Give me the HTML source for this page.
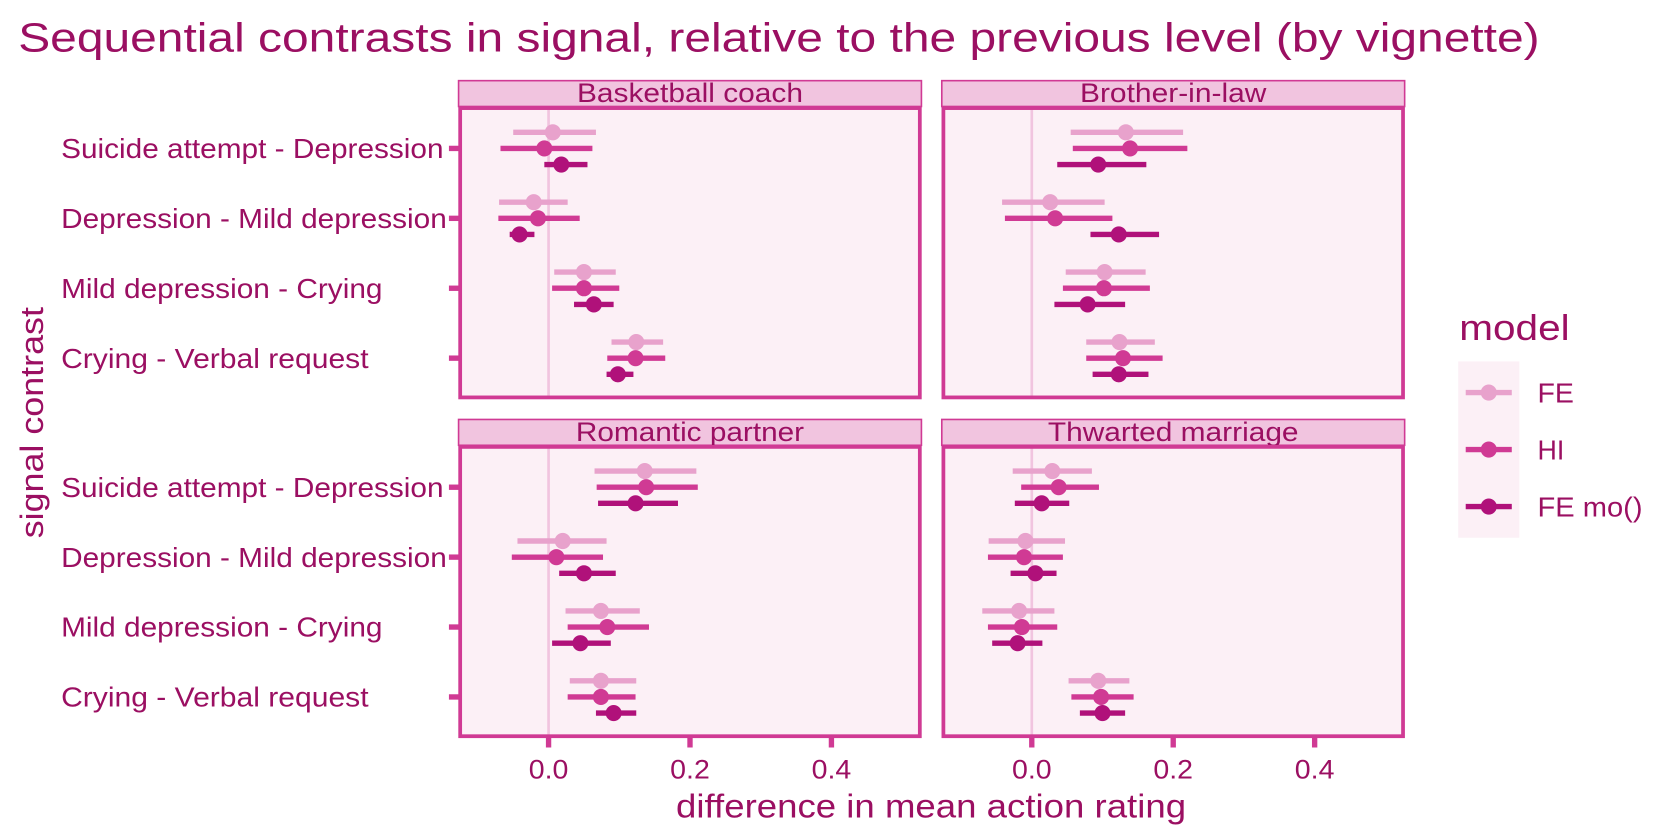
<!DOCTYPE html>
<html><head><meta charset="utf-8"><style>
html,body{margin:0;padding:0;background:#fff;}
svg{display:block;font-family:"Liberation Sans",sans-serif;}
</style></head><body>
<svg id="chart" width="1680" height="840" viewBox="0 0 1568 781" preserveAspectRatio="none" xmlns="http://www.w3.org/2000/svg">
<text x="17" y="48" font-size="38" fill="#9b0f62" textLength="1420" lengthAdjust="spacingAndGlyphs">Sequential contrasts in signal, relative to the previous level (by vignette)</text>
<text transform="translate(40,393) rotate(-90)" text-anchor="middle" font-size="30" fill="#9b0f62" textLength="215" lengthAdjust="spacingAndGlyphs">signal contrast</text>
<text x="869" y="760" text-anchor="middle" font-size="31" fill="#9b0f62" textLength="476" lengthAdjust="spacingAndGlyphs">difference in mean action rating</text>
<g id="panels"></g>
<g id="legend">
<rect x="1361" y="336" width="57" height="164" fill="#fcf0f6"/>
<text x="1362" y="316" font-size="34" fill="#9b0f62" textLength="103" lengthAdjust="spacingAndGlyphs">model</text>
</g>
</svg>
<script>
const vignettes = ["Basketball coach","Brother-in-law","Romantic partner","Thwarted marriage"];
const contrasts = ["Suicide attempt - Depression","Depression - Mild depression","Mild depression - Crying","Crying - Verbal request"];
const models = ["FE","HI","FE mo()"];
const xTicks = [0.0,0.2,0.4];
const xTickLabels = ["0.0","0.2","0.4"];
// estimates[vignette][contrast][model]
const est = [
 [[0.006,-0.006,0.018],[-0.021,-0.015,-0.041],[0.050,0.050,0.064],[0.124,0.123,0.098]],
 [[0.133,0.139,0.094],[0.026,0.033,0.123],[0.103,0.102,0.079],[0.124,0.129,0.123]],
 [[0.136,0.138,0.123],[0.020,0.011,0.050],[0.074,0.083,0.045],[0.074,0.074,0.092]],
 [[0.029,0.038,0.014],[-0.009,-0.011,0.005],[-0.018,-0.014,-0.020],[0.094,0.098,0.100]]
];
const lower = [
 [[-0.050,-0.068,-0.006],[-0.070,-0.071,-0.055],[0.008,0.005,0.036],[0.089,0.083,0.082]],
 [[0.055,0.058,0.036],[-0.042,-0.038,0.083],[0.048,0.044,0.032],[0.077,0.077,0.086]],
 [[0.065,0.068,0.070],[-0.044,-0.052,0.015],[0.024,0.027,0.005],[0.030,0.027,0.067]],
 [[-0.027,-0.015,-0.024],[-0.061,-0.062,-0.030],[-0.070,-0.062,-0.056],[0.052,0.056,0.068]]
];
const upper = [
 [[0.067,0.062,0.055],[0.027,0.044,-0.020],[0.095,0.100,0.092],[0.162,0.165,0.120]],
 [[0.214,0.220,0.162],[0.103,0.114,0.180],[0.161,0.167,0.132],[0.174,0.185,0.165]],
 [[0.209,0.211,0.183],[0.082,0.077,0.095],[0.129,0.142,0.088],[0.124,0.123,0.124]],
 [[0.085,0.095,0.053],[0.047,0.044,0.035],[0.032,0.036,0.015],[0.138,0.144,0.132]]
];
const labelWidths = [357,360,300,287];
const stripWidths = [211,174,213,234];
const colors = ["#e8a2cc","#d03a94","#b0117a"];
const NS="http://www.w3.org/2000/svg";
function mk(tag,attrs,parent){const e=document.createElementNS(NS,tag);for(const k in attrs)e.setAttribute(k,attrs[k]);parent.appendChild(e);return e;}
const panelsG=document.getElementById('panels');
const PX=[428,879], PY=[99,414], PW=432, PH=272;
function xScale(p,v){return PX[p%2]+84+v*660;}
function yScale(p,ci,mi){return PY[Math.floor(p/2)]+39+ci*65+(mi-1)*15;}
vignettes.forEach((v,p)=>{
 const x0=PX[p%2], y0=PY[Math.floor(p/2)];
 const g=mk('g',{},panelsG);
 
 
 const strip=mk('rect',{x:x0,y:y0-24,width:PW,height:24,fill:'#f1c4df',stroke:'#d03a94','stroke-width':1.5},g);
 
 
 const st=mk('text',{x:x0+PW/2,y:y0-4,'text-anchor':'middle','font-size':25,fill:'#9b0f62',textLength:stripWidths[p],lengthAdjust:'spacingAndGlyphs'},g);
 st.textContent=v;
 
 
 const bg=mk('rect',{x:x0,y:y0,width:PW,height:PH,fill:'#fcf0f6'},g);
 
 
 const zl=mk('line',{x1:xScale(p,0),x2:xScale(p,0),y1:y0,y2:y0+PH,stroke:'#f1c4df','stroke-width':2.5},g);
 
 
 contrasts.forEach((c,ci)=>{
  models.forEach((m,mi)=>{
   const y=yScale(p,ci,mi);
   const l=mk('line',{x1:xScale(p,lower[p][ci][mi]),x2:xScale(p,upper[p][ci][mi]),y1:y,y2:y,stroke:colors[mi],'stroke-width':5},g);
   
   
   const pt=mk('circle',{cx:xScale(p,est[p][ci][mi]),cy:y,r:7.5,fill:colors[mi]},g);
   
   
  });
  if(p%2===0){
   const ty=yScale(p,ci,1);
   const tk=mk('line',{x1:419,x2:428,y1:ty,y2:ty,stroke:'#d03a94','stroke-width':5},g);
   
   
   const tl=mk('text',{x:57,y:ty+9,'font-size':26,fill:'#9b0f62',textLength:labelWidths[ci],lengthAdjust:'spacingAndGlyphs'},g);
   tl.textContent=c;
   
   
  }
 });
 const bd=mk('rect',{x:x0+1.5,y:y0+1.5,width:PW-3,height:PH-3,fill:'none',stroke:'#d03a94','stroke-width':3.5},g);
 
 
 if(p>=2){
  xTicks.forEach((t,i)=>{
   const xx=xScale(p,t);
   const tk=mk('line',{x1:xx,x2:xx,y1:y0+PH,y2:y0+PH+9,stroke:'#d03a94','stroke-width':5},g);
   
   
   const tl=mk('text',{x:xx,y:y0+PH+38,'text-anchor':'middle','font-size':25,fill:'#9b0f62',textLength:37,lengthAdjust:'spacingAndGlyphs'},g);
   tl.textContent=xTickLabels[i];
   
   
  });
 }
});
const lg=document.getElementById('legend');
const legendWidths=[34,25,98];
models.forEach((m,mi)=>{
 const y=365+mi*53;
 const ln=mk('line',{x1:1368,x2:1411,y1:y,y2:y,stroke:colors[mi],'stroke-width':5},lg);
 
 
 const c=mk('circle',{cx:1389.5,cy:y,r:7.5,fill:colors[mi]},lg);
 
 
 const t=mk('text',{x:1435,y:y+9,'font-size':26,fill:'#9b0f62',textLength:legendWidths[mi],lengthAdjust:'spacingAndGlyphs'},lg);
 t.textContent=m;
 
 
});
</script>
</body></html>
